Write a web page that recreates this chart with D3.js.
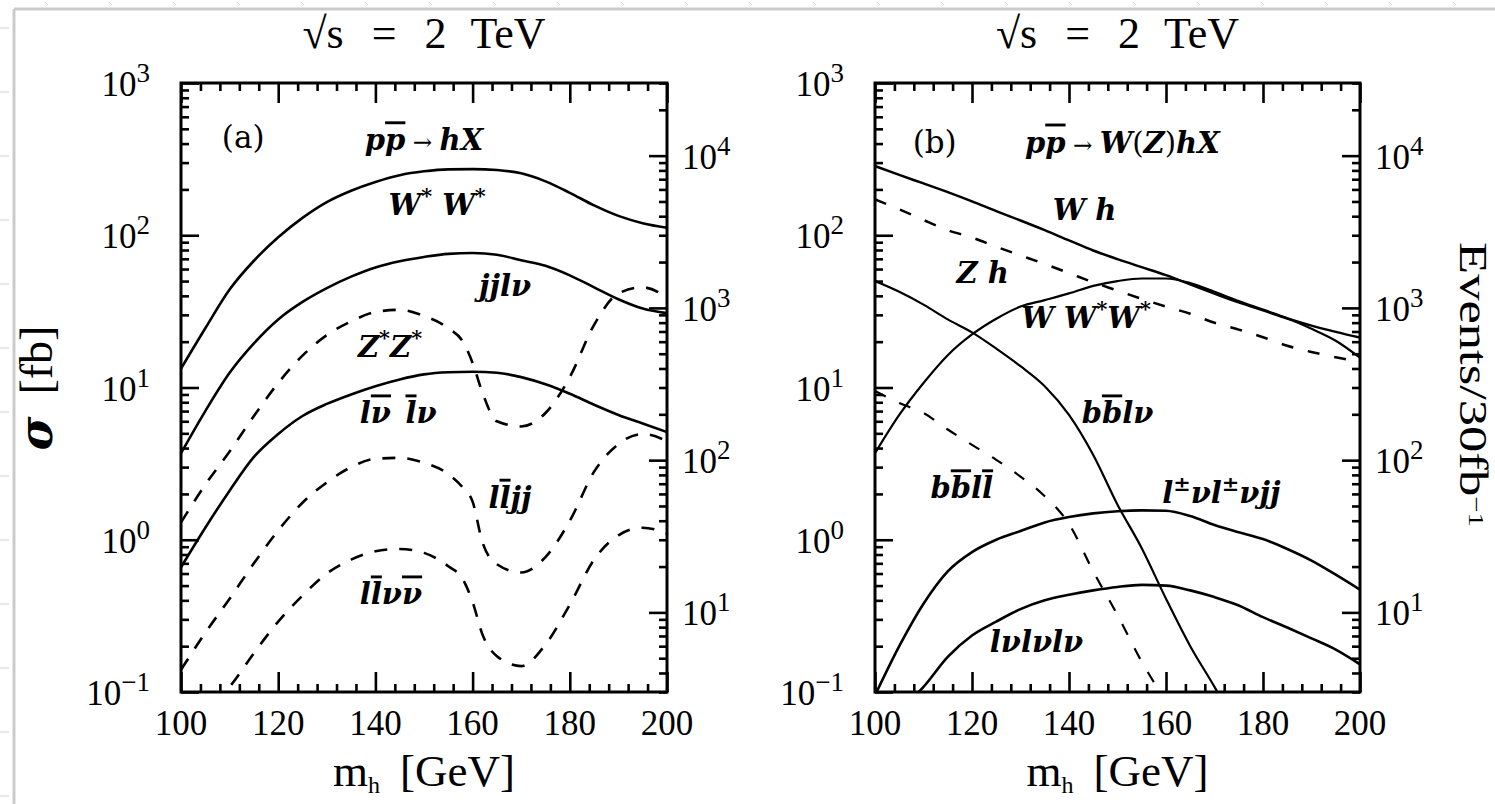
<!DOCTYPE html>
<html>
<head>
<meta charset="utf-8">
<script src="https://cdn.jsdelivr.net/npm/d3@7"></script>
<style>
  html, body { margin: 0; padding: 0; background: #fff; overflow: hidden; }
  svg { display: block; }
</style>
</head>
<body>
<svg id="chart" width="1495" height="804"></svg>
<script>
// ---------------------------------------------------------------
// Higgs mass grids (GeV)
const massGrid = [100,105,110,115,120,125,130,135,140,145,150,155,160,165,170,175,180,185,190,195,200];
const massDip  = [100,105,110,115,120,125,130,135,140,145,150,155,158,160,162,165,170,175,180,185,190,195,200];

// Panel (a): p pbar -> h X, sigma x BR in fb
const sigmaWW      = [13.3,24.5,44,68,97,130,165,196,224,248,263,271,272,268,255,226,190,157,134,120,112];
const sigmaJJLNu   = [3.7,7.0,12.5,19.5,28,36.5,45,53.5,61.5,67.5,72,75.5,76.5,74.5,68.5,63,54.5,45.5,38,33,30.8];
const sigmaLNuLNu  = [0.66,1.2,2.1,3.5,4.95,6.5,7.8,9.0,10.2,11.3,12.2,12.6,12.7,12.5,11.7,10.5,9.1,7.7,6.6,5.8,5.1];
const sigmaZZ      = [1.3,2.3,3.8,6.5,10.7,16.2,22.1,27.2,31.3,32.4,29.5,24.5,20.0,14.5,9.3,6.0,5.55,6.8,11.7,25.8,41.5,45.5,39];
const sigmaLLJJ    = [0.14,0.245,0.41,0.7,1.15,1.75,2.38,3.0,3.4,3.45,3.2,2.7,2.2,1.78,0.97,0.69,0.61,0.77,1.33,2.8,4.25,4.95,4.45];
const sigmaLLNuNu  = [0.048,0.073,0.108,0.18,0.29,0.43,0.6,0.74,0.84,0.87,0.82,0.67,0.55,0.39,0.24,0.172,0.148,0.205,0.375,0.74,1.07,1.2,1.1];

// Panel (b): p pbar -> W(Z) h X, sigma x BR in fb
const sigmaWh       = [285,249,219,192,167,144,125,108,92.5,79.4,69.7,61.7,54.7,47.6,41.4,36.2,32.1,28.4,25.5,23.2,21.3];
const sigmaZh       = [172,148,126,108,96.6,84,73.7,64.7,56.4,49.1,43.3,38.2,34,30.5,26.6,24,21.4,18.8,17.1,15.8,14.7];
const sigmaWWW      = [3.7,6.6,10.7,16.3,22.3,28.3,34,37.5,41.5,46.5,50,52,52,48.5,42.5,37,32.5,28.5,24.3,20.3,15.7];
const sigmaBBLNu    = [50,42.5,35,28,23,18,13.8,10.2,6.6,3.6,1.7,0.88,0.41,0.2,0.108,0.055,null,null,null,null,null];
const sigmaBBLL     = [9.5,7.9,6.8,5.3,4.2,3.35,2.6,1.93,1.27,0.62,0.32,0.158,0.087,null,null,null,null,null,null,null,null];
const sigmaSameSign = [0.095,0.2,0.38,0.62,0.83,1.0,1.14,1.3,1.41,1.49,1.54,1.56,1.55,1.43,1.25,1.12,1.01,0.87,0.73,0.59,0.47];
const sigmaTriLep   = [null,0.075,0.108,0.17,0.235,0.29,0.35,0.4,0.435,0.465,0.49,0.505,0.5,0.465,0.42,0.37,0.31,0.265,0.225,0.19,0.152];

// Axes
const massTicks    = [100,120,140,160,180,200];
const sigmaDecades = [-1,0,1,2,3];   // 10^n fb
const eventDecades = [1,2,3,4];      // 10^n events
const lumi = 30;                     // fb^-1

// ---------------------------------------------------------------
const svg = d3.select("#chart");
const yTop = 83, yBottom = 692;
const serif = '"Liberation Serif", "Times New Roman", serif';
const mathFont = '"DejaVu Serif", serif';

// page border of the slide
const deco = svg.append("g").attr("stroke", "#cbcbcb").attr("fill", "none");
deco.append("line").attr("x1", 14).attr("x2", 1495).attr("y1", 9).attr("y2", 9).attr("stroke-width", 3);
deco.append("line").attr("x1", 14).attr("x2", 14).attr("y1", 9).attr("y2", 804).attr("stroke-width", 3);
const faint = svg.append("g").attr("stroke", "#c9d2e3").attr("stroke-width", 1);
d3.range(45, 1495, 64).forEach(v => faint.append("line").attr("x1", v).attr("x2", v + 3).attr("y1", 2).attr("y2", 5));
d3.range(28, 804, 64).forEach(v => faint.append("line").attr("x1", 0).attr("x2", 9).attr("y1", v).attr("y2", v));

const panels = [
  {
    id: "a", left: 181, right: 667, lineWidth: 2.6,
    series: [
      { mass: massGrid, values: sigmaWW },
      { mass: massGrid, values: sigmaJJLNu },
      { mass: massGrid, values: sigmaLNuLNu },
      { mass: massDip, values: sigmaZZ, dash: "13,12" },
      { mass: massDip, values: sigmaLLJJ, dash: "13,12" },
      { mass: massDip, values: sigmaLLNuNu, dash: "13,12" }
    ],
    tag: { m: 112.8, s: 442, text: "(a)" },
    labels: [
      { m: 150,   s: 423,  parts: [["p"], ["p", "bar"], [" \u2192 ", "arrow"], ["h"], ["X"]] },
      { m: 152.7, s: 158,  parts: [["W"], ["*", "sup"], [" W"], ["*", "sup"]] },
      { m: 166.7, s: 47,   parts: [["jjl\u03BD"]] },
      { m: 143,   s: 18.5, parts: [["Z"], ["*", "sup"], ["Z"], ["*", "sup"]] },
      { m: 144.7, s: 6.8,  parts: [["l"], ["\u03BD", "bar"], ["\u2002"], ["l", "bar"], ["\u03BD"]] },
      { m: 167.7, s: 1.9,  parts: [["l"], ["l", "bar"], ["jj"]] },
      { m: 143.2, s: 0.44, parts: [["l"], ["l", "bar"], ["\u03BD"], ["\u03BD", "bar"]] }
    ]
  },
  {
    id: "b", left: 875, right: 1360, lineWidth: 2.2,
    series: [
      { mass: massGrid, values: sigmaWh, width: 2.5 },
      { mass: massGrid, values: sigmaZh, dash: "12,15", width: 2.5 },
      { mass: massGrid, values: sigmaWWW },
      { mass: massGrid, values: sigmaBBLNu },
      { mass: massGrid, values: sigmaBBLL, dash: "12,15" },
      { mass: massGrid, values: sigmaSameSign, width: 2.6 },
      { mass: massGrid, values: sigmaTriLep, width: 2.6 }
    ],
    tag: { m: 112.3, s: 409, text: "(b)" },
    labels: [
      { m: 151,   s: 409,  parts: [["p"], ["p", "bar"], [" \u2192 ", "arrow"], ["W"], ["(", "up"], ["Z"], [")", "up"], ["hX"]] },
      { m: 143.2, s: 147,  parts: [["W h"]] },
      { m: 122.2, s: 57,   parts: [["Z h"]] },
      { m: 143.5, s: 28.6, parts: [["W W"], ["*", "sup"], ["W"], ["*", "sup"]] },
      { m: 150,   s: 6.8,  parts: [["b"], ["b", "bar"], ["l\u03BD"]] },
      { m: 117.9, s: 2.19, parts: [["b"], ["b", "bar"], ["l"], ["l", "bar"]] },
      { m: 171.4, s: 2.03, parts: [["l"], ["\u00B1", "sup"], ["\u03BDl"], ["\u00B1", "sup"], ["\u03BDjj"]] },
      { m: 133.3, s: 0.216, parts: [["l\u03BDl\u03BDl\u03BD"]] }
    ]
  }
];

function powerLabel(g, x, y, exponent, anchor) {
  const t = g.append("text")
    .attr("x", x).attr("y", y + 13)
    .attr("text-anchor", anchor)
    .attr("font-family", serif).attr("font-size", 35).attr("fill", "#000");
  t.append("tspan").text("10");
  t.append("tspan").attr("font-size", 27).attr("baseline-shift", 14)
    .text(exponent < 0 ? "\u2212" + (-exponent) : String(exponent));
}

function mathLabel(g, cx, cy, parts, size) {
  const t = g.append("text")
    .attr("x", cx).attr("y", cy + size * 0.36)
    .attr("text-anchor", "middle")
    .attr("font-family", mathFont).attr("font-size", size)
    .attr("font-weight", "bold").attr("font-style", "italic").attr("fill", "#000");
  parts.forEach(([str, kind]) => {
    const ts = t.append("tspan").text(str);
    if (kind === "sup") ts.attr("font-size", size * 0.72).attr("baseline-shift", size * 0.42);
    if (kind === "bar") ts.style("text-decoration", "overline");
    if (kind === "up") ts.attr("font-style", "normal").attr("font-weight", "normal");
    if (kind === "arrow") ts.attr("font-style", "normal").attr("font-weight", "normal").attr("font-size", size * 0.8);
  });
}

panels.forEach(p => {
  const x = d3.scaleLinear().domain([100, 200]).range([p.left, p.right]);
  const y = d3.scaleLog().domain([0.1, 1000]).range([yBottom, yTop]);
  const yEvents = d3.scaleLog().domain([0.1 * lumi, 1000 * lumi]).range([yBottom, yTop]);
  const g = svg.append("g").attr("class", "panel-" + p.id);

  const clipId = "clip-" + p.id;
  svg.append("clipPath").attr("id", clipId).append("rect")
    .attr("x", p.left).attr("y", yTop)
    .attr("width", p.right - p.left).attr("height", yBottom - yTop);

  // curves
  const line = d3.line()
    .defined(d => d.s != null)
    .x(d => x(d.m)).y(d => y(d.s))
    .curve(d3.curveMonotoneX);
  const curves = g.append("g").attr("clip-path", `url(#${clipId})`);
  p.series.forEach(s => {
    const pts = s.mass.map((m, i) => ({ m, s: s.values[i] }));
    curves.append("path")
      .attr("d", line(pts))
      .attr("fill", "none").attr("stroke", "#000")
      .attr("stroke-width", s.width || p.lineWidth)
      .attr("stroke-dasharray", s.dash || null)
      .attr("stroke-linejoin", "round");
  });

  // ticks (inward on all four sides)
  function tickSet(axisFn, scale, values, size, transform) {
    const axis = axisFn(scale).tickValues(values).tickSize(-size).tickSizeOuter(0).tickFormat("");
    const t = g.append("g").attr("transform", transform).call(axis);
    t.select(".domain").remove();
    t.selectAll("line").attr("stroke", "#000").attr("stroke-width", 2.6);
  }
  const minorMass = d3.range(100, 201, 4).filter(v => (v - 100) % 20 !== 0);
  const majorSigma = sigmaDecades.map(n => Math.pow(10, n));
  const minorSigma = [];
  sigmaDecades.slice(0, -1).forEach(n => d3.range(2, 10).forEach(k => minorSigma.push(+(k + "e" + n))));
  const majorEvents = eventDecades.map(n => Math.pow(10, n));
  const minorEvents = [];
  [0, 1, 2, 3, 4].forEach(n => d3.range(2, 10).forEach(k => {
    const v = +(k + "e" + n);
    if (v >= 0.1 * lumi && v <= 1000 * lumi) minorEvents.push(v);
  }));

  tickSet(d3.axisBottom, x, massTicks, 20, `translate(0,${yBottom})`);
  tickSet(d3.axisBottom, x, minorMass, 8, `translate(0,${yBottom})`);
  tickSet(d3.axisTop, x, massTicks, 20, `translate(0,${yTop})`);
  tickSet(d3.axisTop, x, minorMass, 8, `translate(0,${yTop})`);
  tickSet(d3.axisLeft, y, majorSigma, 18, `translate(${p.left},0)`);
  tickSet(d3.axisLeft, y, minorSigma, 8, `translate(${p.left},0)`);
  tickSet(d3.axisRight, yEvents, majorEvents, 18, `translate(${p.right},0)`);
  tickSet(d3.axisRight, yEvents, minorEvents, 8, `translate(${p.right},0)`);

  // frame
  g.append("rect")
    .attr("x", p.left).attr("y", yTop)
    .attr("width", p.right - p.left).attr("height", yBottom - yTop)
    .attr("fill", "none").attr("stroke", "#000").attr("stroke-width", 3);

  // tick labels
  massTicks.forEach(v => {
    g.append("text").attr("x", x(v)).attr("y", 735)
      .attr("text-anchor", "middle")
      .attr("font-family", serif).attr("font-size", 35).attr("fill", "#000")
      .text(v);
  });
  sigmaDecades.forEach(n => powerLabel(g, p.left - 31, y(Math.pow(10, n)), n, "end"));
  eventDecades.forEach(n => powerLabel(g, p.right + 15, yEvents(Math.pow(10, n)), n, "start"));

  // title
  const tt = g.append("text")
    .attr("x", (p.left + p.right) / 2).attr("y", 48)
    .attr("text-anchor", "middle")
    .attr("font-family", serif).attr("font-size", 44).attr("fill", "#000");
  tt.append("tspan").text("\u221As");
  tt.append("tspan").attr("dx", 28).text("=");
  tt.append("tspan").attr("dx", 28).text("2");
  tt.append("tspan").attr("dx", 24).text("TeV");

  // x axis title
  const xt = g.append("text")
    .attr("x", (p.left + p.right) / 2).attr("y", 786)
    .attr("text-anchor", "middle")
    .attr("font-family", serif).attr("font-size", 45).attr("fill", "#000");
  xt.append("tspan").text("m");
  xt.append("tspan").attr("font-size", 24).attr("baseline-shift", -7).text("h");
  xt.append("tspan").attr("dx", 20).text("[GeV]");

  // panel tag and curve labels
  g.append("text")
    .attr("x", x(p.tag.m)).attr("y", y(p.tag.s) + 11)
    .attr("text-anchor", "middle")
    .attr("font-family", mathFont).attr("font-size", 31).attr("fill", "#000")
    .text(p.tag.text);
  p.labels.forEach(l => mathLabel(g, x(l.m), y(l.s), l.parts, 29));
});

// y axis titles
const yt = svg.append("text")
  .attr("transform", "translate(52,388) rotate(-90)")
  .attr("text-anchor", "middle")
  .attr("font-family", serif).attr("font-size", 46).attr("fill", "#000");
yt.append("tspan").attr("font-family", mathFont).attr("font-weight", "bold").attr("font-style", "italic").text("\u03C3");
yt.append("tspan").attr("dx", 22).text("[fb]");

const et = svg.append("text")
  .attr("transform", "translate(1460,242) rotate(90)")
  .attr("text-anchor", "start")
  .attr("font-family", serif).attr("font-size", 40).attr("fill", "#000")
  .attr("textLength", 285).attr("lengthAdjust", "spacingAndGlyphs");
et.append("tspan").text("Events/30fb");
et.append("tspan").attr("font-size", 22).attr("baseline-shift", 9).text("\u22121");
</script>
</body>
</html>
